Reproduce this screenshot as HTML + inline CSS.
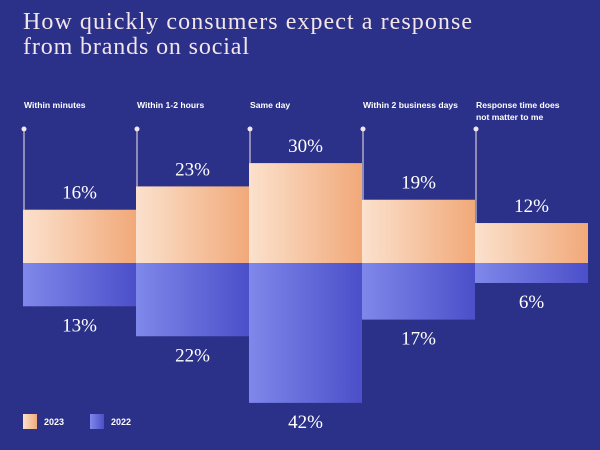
<!DOCTYPE html>
<html><head><meta charset="utf-8"><style>
body{margin:0;background:#2b3088;}
svg{display:block}
</style></head><body>
<svg width="600" height="450" viewBox="0 0 600 450">
<defs>
<linearGradient id="go" x1="0" x2="1" y1="0" y2="0"><stop offset="0" stop-color="#fbe1cd"/><stop offset="1" stop-color="#f1a979"/></linearGradient>
<linearGradient id="gb" x1="0" x2="1" y1="0" y2="0"><stop offset="0" stop-color="#7f88ea"/><stop offset="1" stop-color="#4b4fc9"/></linearGradient>
</defs>
<rect width="600" height="450" fill="#2b3088"/>
<text x="23" y="29" font-family="Liberation Serif, serif" font-size="24" textLength="449" lengthAdjust="spacing" fill="#f3e6ea">How quickly consumers expect a response</text>
<text x="23" y="54" font-family="Liberation Serif, serif" font-size="24" textLength="226" lengthAdjust="spacing" fill="#f3e6ea">from brands on social</text>
<g id="plot"></g>
<rect x="23" y="414" width="14" height="15" fill="url(#go)"/>
<text x="44" y="425" font-family="Liberation Sans, sans-serif" font-size="9" font-weight="bold" fill="#fff">2023</text>
<rect x="90" y="414" width="14" height="15" fill="url(#gb)"/>
<text x="111" y="425" font-family="Liberation Sans, sans-serif" font-size="9" font-weight="bold" fill="#fff">2022</text>
</svg>
<script>
const categories=["Within minutes","Within 1-2 hours","Same day","Within 2 business days","Response time does|not matter to me"];
const values2023=[16,23,30,19,12];
const values2022=[13,22,42,17,6];
const base=263, k=3.33, x0=23, bw=113;
const y=v=>v*k;
const g=document.getElementById('plot');
const NS='http://www.w3.org/2000/svg';
function mk(t,a){const e=document.createElementNS(NS,t);for(const n in a)e.setAttribute(n,a[n]);g.appendChild(e);return e;}
categories.forEach((c,i)=>{
  const x=x0+i*bw;
  const r1=mk('rect',{x:x,y:base-y(values2023[i]),width:bw,height:y(values2023[i]),fill:'url(#go)'});
  
  
  const r2=mk('rect',{x:x,y:base,width:bw,height:y(values2022[i]),fill:'url(#gb)'});
  
  
  const ln=mk('line',{x1:x+1,x2:x+1,y1:129,y2:base-y(values2023[i]),stroke:'#f3e6ea','stroke-width':1});
  
  
  const dt=mk('circle',{cx:x+1,cy:129,r:2.5,fill:'#f3e6ea'});
  
  
  c.split('|').forEach((s,j)=>{
    const t=mk('text',{x:x+1,y:108+j*12,'font-family':'Liberation Sans, sans-serif','font-size':'8.6','font-weight':'bold',fill:'#fff'});
    t.textContent=s;
    
    
  });
  const t1=mk('text',{x:x+bw/2,y:base-y(values2023[i])-11,'text-anchor':'middle','font-family':'Liberation Serif, serif','font-size':'19',fill:'#fff'});
  t1.textContent=values2023[i]+'%';
  
  
  const t2=mk('text',{x:x+bw/2,y:base+y(values2022[i])+25,'text-anchor':'middle','font-family':'Liberation Serif, serif','font-size':'19',fill:'#fff'});
  t2.textContent=values2022[i]+'%';
  
  
});
</script>
</body></html>
